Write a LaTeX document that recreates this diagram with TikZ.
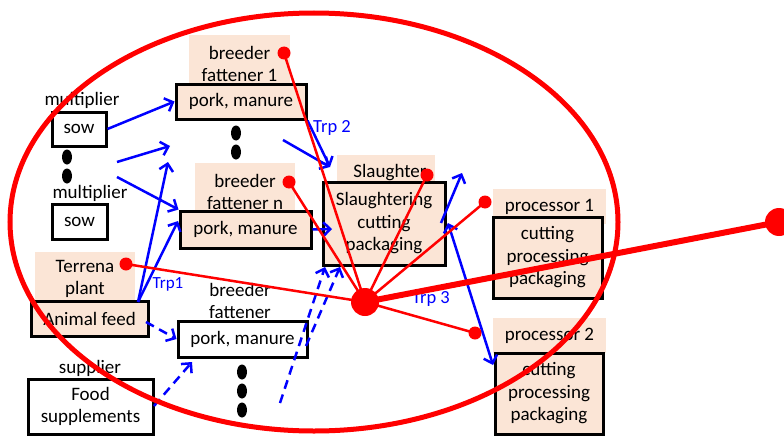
\documentclass[tikz,border=0pt]{standalone}
\usepackage{fontspec}
\setmainfont{Carlito}
\usetikzlibrary{arrows.meta}
\definecolor{peach}{RGB}{251,229,214}
\begin{document}
\begin{tikzpicture}[x=1pt,y=-1pt,
  every node/.style={font=\fontsize{19}{22.5}\selectfont, inner sep=0pt, align=center},
  lab/.style={fill=peach},
  bx/.style={draw=black, line width=3pt},
  pbx/.style={bx, fill=peach},
  wbx/.style={bx, fill=white},
  barrow/.style={blue, line width=2.5pt, -{Straight Barb[length=7pt,width=14pt]}},
  dsh/.style={dash pattern=on 9pt off 6pt},
  blab/.style={text=blue, font=\fontsize{18.5}{20}\selectfont},
  rline/.style={red, line width=2.5pt},
  blackdot/.style={fill=black}
]
\useasboundingbox (0,0) rectangle (784,436);

% shaded labels
\node[lab, minimum width=101pt, minimum height=58pt] (bf1lab) at (239.5,64) {breeder\\fattener 1};
\node[lab, minimum width=100pt, minimum height=58pt] (bfnlab) at (245,192) {breeder\\fattener n};
\node[lab, minimum width=100pt, minimum height=54pt] (terlab) at (85,279) {Terrena\\plant};
\node[lab, minimum width=98pt, minimum height=35pt] (slalab) at (386,172.5) {\hspace*{8pt}Slaughter};
\node[lab, minimum width=113pt, minimum height=35pt] (p1lab) at (549.5,206.5) {processor 1};
\node[lab, minimum width=113pt, minimum height=35pt] (p2lab) at (549.5,335.5) {processor 2};

% plain labels
\node (mult1) at (82,100) {multiplier};
\node (mult2) at (90,193) {multiplier};
\node (supp) at (90,368) {supplier};
\node (bf3lab) at (240,301) {breeder\\fattener};

% boxes
\node[wbx, minimum width=54pt, minimum height=34pt] (sow1) at (79,129) {sow};
\node[wbx, minimum width=55pt, minimum height=35pt] (sow2) at (79.5,221.5) {sow};
\node[pbx, minimum width=117pt, minimum height=35pt] (feed) at (89.5,318.5) {Animal feed};
\node[wbx, minimum width=125pt, minimum height=55pt] (food) at (90.5,406.5) {Food\\supplements};
\node[pbx, minimum width=130pt, minimum height=35pt] (pm1) at (241,101.5) {pork, manure};
\node[pbx, minimum width=131pt, minimum height=37pt] (pmn) at (245.5,229.5) {pork, manure};
\node[wbx, minimum width=129pt, minimum height=36pt] (pm3) at (242.5,339) {pork, manure};
\node[pbx, minimum width=122pt, minimum height=83pt] (sla) at (384,223.5) {Slaughtering\\cutting\\packaging};
\node[pbx, minimum width=109pt, minimum height=81pt] (p1) at (547.5,257.5) {cutting\\processing\\packaging};
\node[pbx, minimum width=108pt, minimum height=81pt] (p2) at (549,393.5) {cutting\\processing\\packaging};

% black ellipsis dots
\foreach \px/\py in {67/157, 67/176, 236/133, 236/152, 242/372, 242/391, 242/410}
  \fill[black] (\px,\py) ellipse (5pt and 7.5pt);

% blue connectors
\coordinate (a2s) at (117,162);
\coordinate (a2e) at (170,146);
\coordinate (a3s) at (117,177);
\coordinate (fdtop) at (138,302);
\coordinate (a4e) at (168,162);
\coordinate (a5e) at (178,221);
\coordinate (fdr) at (146,322);
\coordinate (fsr) at (154,406);
\coordinate (a7e) at (192,362);
\coordinate (a8s) at (283,140);
\coordinate (slin) at (330,167);
\coordinate (a10e) at (332,229);
\coordinate (d11s) at (280,403);
\coordinate (d11e) at (325,267);
\coordinate (d12s) at (306,346);
\coordinate (d12e) at (340,267);
\coordinate (a13s) at (441,223);
\coordinate (a13e) at (462,173);
\coordinate (a14s) at (448,223);
\coordinate (a14e) at (493,365);

\draw[barrow] (sow1.east) -- (pm1.west);
\draw[barrow] (a2s) -- (a2e);
\draw[barrow] (a3s) -- (pmn.north west);
\draw[barrow] (fdtop) -- (a4e);
\draw[barrow] (fdtop) -- (a5e);
\draw[barrow, dsh] (fdr) -- (pm3.west);
\draw[barrow, dsh] (fsr) -- (a7e);
\draw[barrow] (a8s) -- (slin);
\draw[barrow] (pm1.south east) -- (slin);
\draw[barrow] (pmn.east) -- (a10e);
\draw[barrow, dsh] (d11s) -- (d11e);
\draw[barrow, dsh] (d12s) -- (d12e);
\draw[barrow] (a13s) -- (a13e);
\draw[barrow, {Straight Barb[length=7pt,width=14pt]}-{Straight Barb[length=7pt,width=14pt]}] (a14s) -- (a14e);

\node[blab, font=\fontsize{17}{20}\selectfont] (trp1) at (168,284) {Trp1};
\node[blab] (trp2) at (332,128) {Trp 2};
\node[blab] (trp3) at (431,299) {Trp 3};

% red network
\coordinate (hub) at (365,302);
\coordinate (far) at (779,222);
\coordinate (d1) at (284,53);
\coordinate (d2) at (289,182);
\coordinate (d3) at (427,175);
\coordinate (d4) at (485,202);
\coordinate (d5) at (475,333);
\coordinate (d6) at (126,264);

\foreach \d in {d1,d2,d3,d4,d5,d6}
  \draw[rline] (hub) -- (\d);
\draw[red, line width=6pt] (hub) -- (far);

\draw[red, line width=5pt] (314,222) ellipse (304pt and 209pt);

\foreach \d in {d1,d2,d3,d4,d5,d6}
  \fill[red] (\d) circle (6.5pt);
\fill[red] (hub) circle (14pt);
\fill[red] (far) circle (14pt);
\end{tikzpicture}
\end{document}
